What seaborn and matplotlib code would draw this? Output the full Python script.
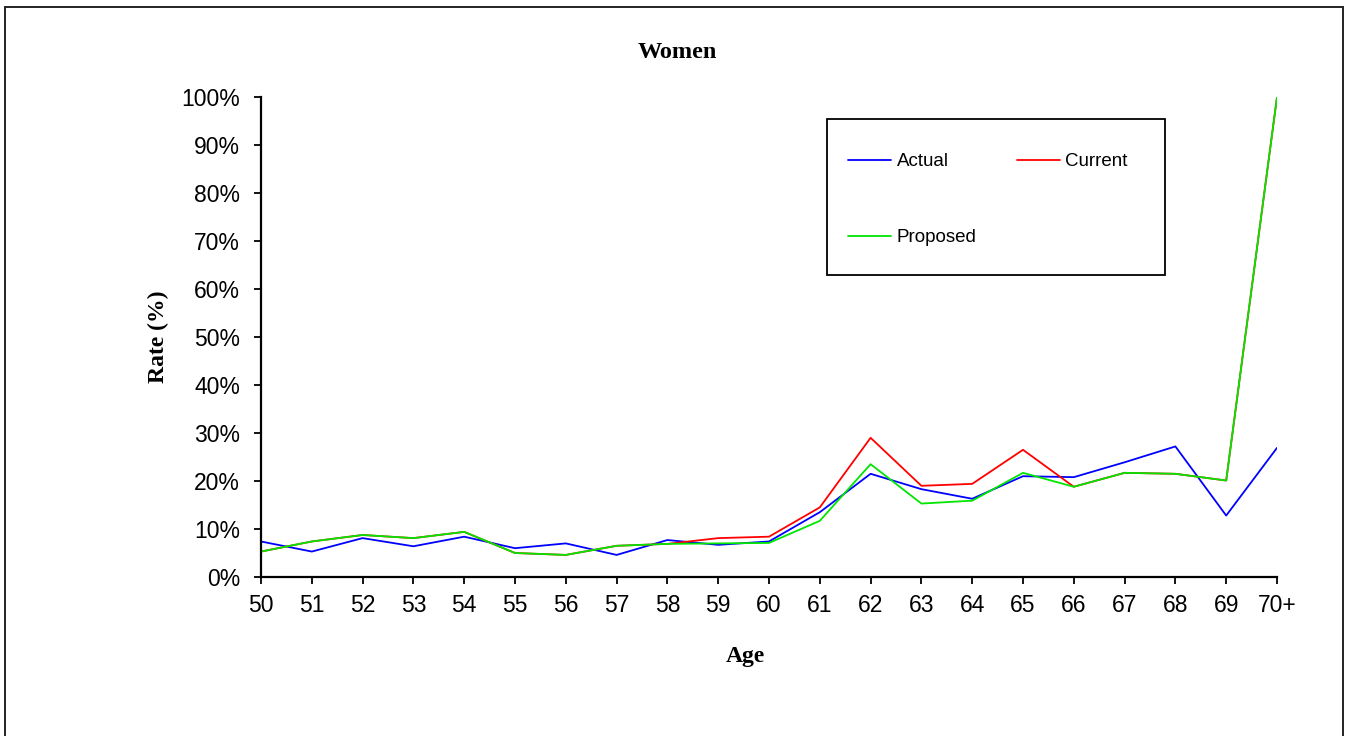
import matplotlib
matplotlib.use("Agg")
import matplotlib.pyplot as plt
from matplotlib.patches import Rectangle
from matplotlib.lines import Line2D
from matplotlib.ticker import PercentFormatter
import seaborn as sns
import pandas as pd

ages = ["50", "51", "52", "53", "54", "55", "56", "57", "58", "59", "60",
        "61", "62", "63", "64", "65", "66", "67", "68", "69", "70+"]
actual = [7.4, 5.3, 8.1, 6.4, 8.4, 6.0, 7.0, 4.6, 7.7, 6.7, 7.4,
          13.5, 21.5, 18.3, 16.3, 21.0, 20.8, 23.9, 27.2, 12.8, 26.9]
current = [5.3, 7.4, 8.75, 8.1, 9.4, 5.0, 4.6, 6.5, 6.9, 8.1, 8.4,
           14.5, 29.0, 19.0, 19.4, 26.5, 18.8, 21.7, 21.5, 20.1, 100.0]
proposed = [5.3, 7.4, 8.75, 8.1, 9.4, 5.0, 4.6, 6.5, 6.9, 7.0, 7.1,
            11.7, 23.5, 15.3, 15.9, 21.7, 18.8, 21.7, 21.5, 20.1, 100.0]
series_names = ["Actual", "Current", "Proposed"]
colors = {"Actual": "#0000FF", "Current": "#FF0000", "Proposed": "#00E600"}

rows = []
for name, vals in zip(series_names, [actual, current, proposed]):
    for i, v in enumerate(vals):
        rows.append({"pos": i, "rate": v / 100.0, "series": name})
df = pd.DataFrame(rows)

sns.set_style("white")
plt.rcParams["font.family"] = ["Liberation Sans", "DejaVu Sans"]
plt.rcParams["text.color"] = "black"
plt.rcParams["axes.labelcolor"] = "black"
plt.rcParams["xtick.color"] = "black"
plt.rcParams["ytick.color"] = "black"

W, H = 1348, 736
fig = plt.figure(figsize=(W / 100, H / 100), dpi=100)
ax = fig.add_axes([261 / W, 1 - 577 / H, (1277 - 261) / W, (577 - 97) / H])

sns.lineplot(data=df, x="pos", y="rate", hue="series", palette=colors,
             hue_order=series_names, linewidth=1.3, ax=ax, legend=False,
             sort=False)

ax.set_xlim(0, len(ages) - 1)
ax.set_ylim(0, 1)
ax.set_xticks(range(len(ages)))
ax.set_xticklabels(ages)
ax.set_yticks([i / 10 for i in range(11)])
ax.yaxis.set_major_formatter(PercentFormatter(1.0, decimals=0))
ax.tick_params(axis="both", which="major", labelsize=16.5, length=5,
               width=1.3, color="black", labelcolor="black", direction="out")
ax.tick_params(axis="x", pad=7)
ax.tick_params(axis="y", pad=10)
ax.xaxis.set_ticks_position("bottom")
ax.yaxis.set_ticks_position("left")
for s in ["top", "right"]:
    ax.spines[s].set_visible(False)
for s in ["left", "bottom"]:
    ax.spines[s].set_color("black")
    ax.spines[s].set_linewidth(1.6)

serif = ["Liberation Serif", "DejaVu Serif"]
ax.set_xlabel("Age", fontsize=17, fontweight="bold", family=serif, color="black")
ax.set_ylabel("Rate (%)", fontsize=17, fontweight="bold", family=serif, color="black")
ax.xaxis.set_label_coords((745 - 261) / 1016, (577 - 646) / 480)
ax.yaxis.set_label_coords((169 - 261) / 1016, 0.5)

fig.text(677 / W, 1 - 53 / H, "Women", ha="center", va="center",
         fontsize=17.5, fontweight="bold", family=serif, color="black")

# legend (row-major order: Actual, Current / Proposed)
leg_order = ["Actual", "Proposed", "Current"]
handles = [Line2D([], [], color=colors[n], linewidth=1.3) for n in leg_order]
leg = ax.legend(handles, leg_order, ncol=2, frameon=False,
                loc="upper left",
                bbox_to_anchor=((848 - 261) / 1016, (577 - 153) / 480),
                borderpad=0, borderaxespad=0, fontsize=13.5,
                handlelength=2.3, handletextpad=0.3, columnspacing=2.14,
                labelspacing=3.15)
for t in leg.get_texts():
    t.set_color("black")
ax.add_patch(Rectangle(((827 - 261) / 1016, (577 - 275) / 480),
                       (1165 - 827) / 1016, (275 - 119) / 480,
                       transform=ax.transAxes, fill=False,
                       edgecolor="black", linewidth=1.3, clip_on=False,
                       zorder=5))

# outer chart frame
fig.patches.append(Rectangle((5 / W, -0.02), (1343 - 5) / W, 1 - 7 / H + 0.02,
                             transform=fig.transFigure, fill=False,
                             edgecolor="#222222", linewidth=1.4))

fig.savefig("out.png", dpi=100, facecolor="white")
